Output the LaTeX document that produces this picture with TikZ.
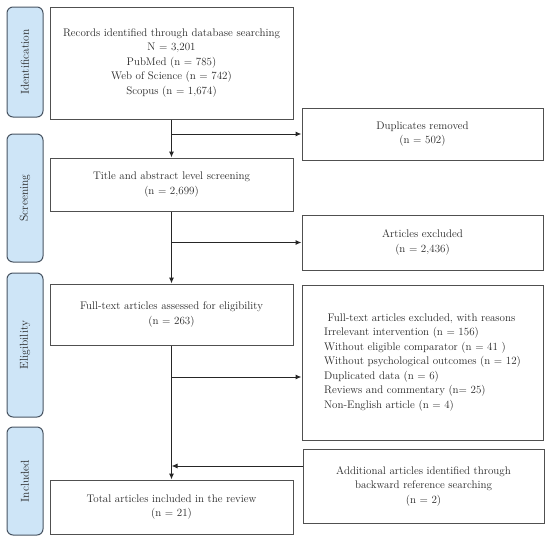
\documentclass[tikz,border=0pt]{standalone}
\usepackage{tikz}
\usetikzlibrary{arrows.meta}
\definecolor{stagefill}{RGB}{206,229,247}
\definecolor{stageline}{RGB}{72,84,98}
\definecolor{boxline}{RGB}{80,80,80}

\begin{document}
\begin{tikzpicture}[x=1pt,y=-1pt,
  box/.style={draw=boxline,line width=1pt,minimum width=243pt,inner sep=0pt,
    align=center,text=black!85,font=\fontsize{11}{14.5}\selectfont},
  sidebox/.style={box,minimum width=241pt},
  stage/.style={draw=stageline,fill=stagefill,rounded corners=6pt,line width=1pt,
    rotate=90,minimum height=36pt,inner sep=0pt,text=black!85,font=\fontsize{11.5}{13}\selectfont},
  arr/.style={-{Latex[length=6pt,width=5pt]},line width=1pt,draw=black!85}]
\useasboundingbox (0,0) rectangle (550,542);

% Stage labels on the left
\foreach \y/\h/\name/\txt in {62/110/sid/Identification,198/128/ssc/Screening,
    345/144/sel/Eligibility,481/108/sin/Included}{
  \node[stage,minimum width=\h pt] (\name) at (25,\y) {\txt};
}

% Main column
\node[box,minimum height=112pt] (rec) at (171.5,63)
  {Records identified through database searching\\N = 3,201\\PubMed (n = 785)\\
   Web of Science (n = 742)\\Scopus (n = 1,674)};
\node[box,minimum height=53pt] (scr) at (171.5,184.5)
  {Title and abstract level screening\\(n = 2,699)};
\node[box,minimum height=61pt] (full) at (171.5,314.5)
  {Full-text articles assessed for eligibility\\(n = 263)};
\node[box,minimum height=54pt] (tot) at (171.5,507)
  {Total articles included in the review\\(n = 21)};

% Right column
\node[sidebox,minimum height=52pt] (dup) at (422.5,134)
  {Duplicates removed\\(n = 502)};
\node[sidebox,minimum height=55pt] (aex) at (422.5,242.5)
  {Articles excluded\\(n = 2,436)};
\node[sidebox,minimum height=155pt,align=left] (fex) at (422.5,362.5)
  {\ Full-text articles excluded, with reasons\\Irrelevant intervention (n = 156)\\
   Without eligible comparator (n = 41 )\\Without psychological outcomes (n = 12)\\
   Duplicated data (n = 6)\\Reviews and commentary (n= 25)\\Non-English article (n = 4)};
\node[sidebox,minimum height=74pt] (add) at (423.5,486)
  {Additional articles identified through\\backward reference searching\\(n = 2)};

% Connectors
\coordinate (c1) at (rec.south |- dup.west);
\coordinate (c2) at (scr.south |- aex.west);
\coordinate (e3) at ([yshift=-14.5pt]fex.west);
\coordinate (c3) at (full.south |- e3);
\coordinate (e4) at ([yshift=20pt]add.west);
\coordinate (c4) at (full.south |- e4);

\draw[arr] (rec.south) -- (scr.north);
\draw[arr] (c1) -- (dup.west);
\draw[arr] (scr.south) -- (full.north);
\draw[arr] (c2) -- (aex.west);
\draw[arr] (full.south) -- (tot.north);
\draw[arr] (c3) -- (e3);
\draw[arr] (e4) -- (c4);

\end{tikzpicture}
\end{document}
